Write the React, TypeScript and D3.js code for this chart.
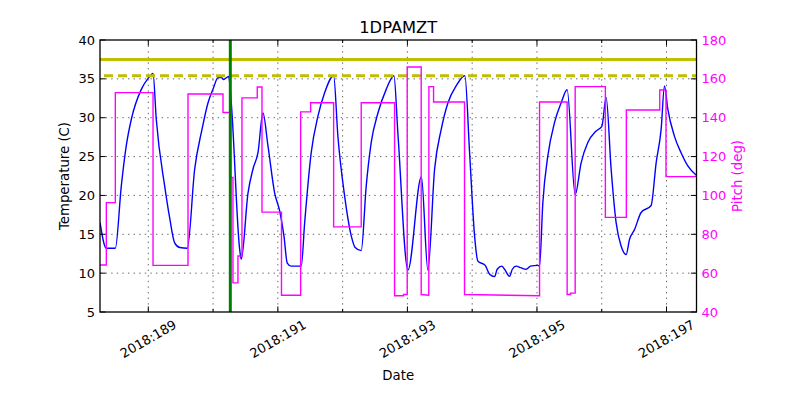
import React from "react";
import * as d3 from "d3";

const title = "1DPAMZT";
const xLabel = "Date";
const yLabelLeft = "Temperature (C)";
const yLabelRight = "Pitch (deg)";

const tempDays = [
  188.255, 188.352, 188.491, 188.583, 188.66, 188.738, 188.892, 189.0, 189.073,
  189.123, 189.253, 189.33, 189.407, 189.485, 189.602, 189.716, 189.829, 189.921,
  190.0, 190.076, 190.127, 190.16, 190.241, 190.281, 190.41, 190.435, 190.539,
  190.616, 190.693, 190.77, 190.847, 190.951, 191.028, 191.094, 191.145, 191.207,
  191.336, 191.361, 191.414, 191.515, 191.619, 191.722, 191.861, 191.927, 192.031,
  192.133, 192.194, 192.287, 192.364, 192.441, 192.545, 192.673, 192.792, 192.853,
  193.008, 193.216, 193.316, 193.42, 193.522, 193.625, 193.753, 193.887, 193.96,
  194.037, 194.088, 194.201, 194.269, 194.346, 194.386, 194.458, 194.5, 194.577,
  194.62, 194.679, 194.75, 194.833, 194.9, 195.014, 195.04, 195.091, 195.168,
  195.272, 195.373, 195.466, 195.59, 195.682, 195.785, 195.914, 196.002, 196.068,
  196.145, 196.222, 196.299, 196.377, 196.429, 196.506, 196.608, 196.762, 196.84,
  196.917, 196.969, 197.02, 197.123, 197.225, 197.329, 197.46,
];
const tempValues = [
  16.5, 13.2, 13.2, 21.2, 26.4, 29.8, 33.65, 35.1, 35.7,
  29.8, 21.2, 17.1, 13.9, 13.3, 13.2, 23.4, 28.5, 31.9,
  33.7, 35.15, 35.2, 34.9, 35.3, 31.9, 13.1, 11.8, 20.3,
  23.4, 25.5, 30.6, 26.4, 20.3, 18.0, 14.8, 11.3, 10.9,
  10.9, 10.9, 16.5, 25.5, 30.2, 33.2, 35.4, 27.6, 19.9,
  14.8, 13.3, 12.9, 21.2, 26.8, 30.6, 33.65, 35.4, 28.0,
  10.4, 22.4, 10.4, 23.4, 28.5, 31.9, 34.1, 35.4, 25.5,
  14.8, 11.55, 11.0, 9.85, 9.55, 10.5, 10.9, 10.5, 9.6,
  10.5, 10.9, 10.7, 10.5, 10.9, 11.0, 10.9, 19.1, 25.1,
  29.4, 31.9, 33.6, 20.1, 24.2, 26.8, 28.3, 28.9, 32.6,
  23.4, 16.5, 13.5, 12.4, 14.35, 15.6, 17.8, 18.7, 24.2,
  28.5, 34.1, 31.1, 27.6, 25.5, 23.8, 22.6,
];

const pitchDays = [
  188.255, 188.352, 188.352, 188.491, 188.491, 189.073, 189.073, 189.613, 189.613,
  190.153, 190.153, 190.256, 190.256, 190.307, 190.307, 190.384, 190.384, 190.446,
  190.446, 190.682, 190.682, 190.755, 190.755, 191.056, 191.056, 191.352, 191.352,
  191.506, 191.506, 191.861, 191.861, 192.287, 192.287, 192.802, 192.802, 192.94,
  192.94, 192.997, 192.997, 193.213, 193.213, 193.33, 193.332, 193.404, 193.404,
  193.882, 193.882, 195.04, 195.04, 195.466, 195.466, 195.518, 195.518, 195.59,
  195.59, 196.056, 196.056, 196.38, 196.38, 196.896, 196.896, 196.992, 196.992,
  197.46,
];
const pitchValues = [
  64.2, 64.2, 96.3, 96.3, 152.9, 152.9, 64.0, 64.0, 152.2,
  152.2, 142.7, 142.7, 109.3, 109.3, 55.0, 55.0, 68.8, 68.8,
  150.2, 150.2, 155.8, 155.8, 91.4, 91.4, 48.6, 48.6, 143.0,
  143.0, 147.7, 147.7, 83.8, 83.8, 147.7, 147.7, 48.4, 48.4,
  49.0, 49.0, 166.1, 166.1, 49.0, 48.6, 156.0, 156.0, 148.1,
  148.1, 49.0, 48.4, 148.1, 148.1, 49.0, 49.0, 49.7, 49.7,
  156.0, 156.0, 88.7, 88.7, 144.0, 144.0, 154.3, 154.3, 109.7,
  109.7,
];

const dayTicks = [189, 190, 191, 192, 193, 194, 195, 196, 197];
const labelledDays = [189, 191, 193, 195, 197];
const tempTicks = [5, 10, 15, 20, 25, 30, 35, 40];
const pitchTicks = [40, 60, 80, 100, 120, 140, 160, 180];
const tempDomain = [5, 40];
const pitchDomain = [40, 180];
const dayDomain = [188.2543, 197.463];
const limitHigh = [37.5];
const limitPlanning = [35.4];
const markerDays = [190.266];

const L = 100, R = 696.5, T = 40, B = 312;
const FONT = "DejaVu Sans, sans-serif";

export default function App() {
  const x = d3.scaleLinear().domain(dayDomain).range([L, R]);
  const yT = d3.scaleLinear().domain(tempDomain).range([B, T]);
  const yP = d3.scaleLinear().domain(pitchDomain).range([B, T]);

  const tempLine = d3
    .line<number>()
    .x((_, i) => x(tempDays[i]))
    .y((v) => yT(v))
    .curve(d3.curveMonotoneX);
  const pitchLine = d3
    .line<number>()
    .x((_, i) => x(pitchDays[i]))
    .y((v) => yP(v));

  return (
    <svg
      width={800}
      height={400}
      style={{ position: "absolute", left: 0, top: 0, background: "#fff" }}
      fontFamily={FONT}
    >
      <defs>
        <clipPath id="plot">
          <rect x={L} y={T} width={R - L} height={B - T} />
        </clipPath>
      </defs>
      <rect x={0} y={0} width={800} height={400} fill="#fff" />
      {/* grid */}
      <g stroke="#000" strokeWidth={0.6} strokeDasharray="1.4,4.2">
        {dayTicks.map((d) => (
          <line key={"gx" + d} x1={x(d)} x2={x(d)} y1={T} y2={B} />
        ))}
        {tempTicks
          .filter((t) => t > tempDomain[0] && t < tempDomain[1])
          .map((t) => (
            <line key={"gy" + t} x1={L} x2={R} y1={yT(t)} y2={yT(t)} />
          ))}
      </g>
      <g clipPath="url(#plot)">
        <path d={tempLine(tempValues) || ""} fill="none" stroke="#0000ff" strokeWidth={1.4} />
        {limitHigh.map((v) => (
          <line key={"lh" + v} x1={L} x2={R} y1={yT(v)} y2={yT(v)} stroke="#bfbf00" strokeWidth={3} />
        ))}
        {limitPlanning.map((v) => (
          <line
            key={"lp" + v}
            x1={L}
            x2={R}
            y1={yT(v)}
            y2={yT(v)}
            stroke="#bfbf00"
            strokeWidth={3}
            strokeDasharray="9,5"
            strokeDashoffset={-4}
          />
        ))}
        <path d={pitchLine(pitchValues) || ""} fill="none" stroke="#ff00ff" strokeWidth={1.4} />
        {markerDays.map((d) => (
          <line key={"m" + d} x1={x(d)} x2={x(d)} y1={T} y2={B} stroke="#008000" strokeWidth={3} />
        ))}
      </g>
      {/* ticks */}
      <g stroke="#000" strokeWidth={1}>
        {dayTicks.map((d) => {
          const len = labelledDays.includes(d) ? 5.6 : 3;
          return (
            <g key={"tx" + d}>
              <line x1={x(d)} x2={x(d)} y1={B} y2={B - len} />
              <line x1={x(d)} x2={x(d)} y1={T} y2={T + len} />
            </g>
          );
        })}
        {tempTicks.map((t) => (
          <line key={"tl" + t} x1={L} x2={L + 5.6} y1={yT(t)} y2={yT(t)} />
        ))}
        {pitchTicks.map((p) => (
          <line key={"tr" + p} x1={R} x2={R - 5.6} y1={yP(p)} y2={yP(p)} />
        ))}
      </g>
      {/* spines */}
      <rect x={L} y={T} width={R - L} height={B - T} fill="none" stroke="#000" strokeWidth={1.3} />
      {/* tick labels */}
      <g fontSize={13} fill="#000">
        {tempTicks.map((t) => (
          <text key={"ll" + t} x={L - 5} y={yT(t)} textAnchor="end" dominantBaseline="central">
            {t}
          </text>
        ))}
        {labelledDays.map((d) => (
          <text
            key={"xl" + d}
            x={x(d)}
            y={339}
            textAnchor="middle"
            dominantBaseline="central"
            transform={`rotate(-30, ${x(d)}, 339)`}
          >
            {`2018:${d}`}
          </text>
        ))}
      </g>
      <g fontSize={13} fill="#ff00ff">
        {pitchTicks.map((p) => (
          <text key={"rl" + p} x={R + 5} y={yP(p)} textAnchor="start" dominantBaseline="central">
            {p}
          </text>
        ))}
      </g>
      <text x={(L + R) / 2} y={27} fontSize={16.3} textAnchor="middle" dominantBaseline="central">
        {title}
      </text>
      <text x={(L + R) / 2} y={375} fontSize={13.3} textAnchor="middle" dominantBaseline="central">
        {xLabel}
      </text>
      <text
        x={64}
        y={(T + B) / 2}
        fontSize={13.3}
        textAnchor="middle"
        dominantBaseline="central"
        transform={`rotate(-90, 64, ${(T + B) / 2})`}
      >
        {yLabelLeft}
      </text>
      <text
        x={737}
        y={(T + B) / 2}
        fontSize={13.3}
        fill="#ff00ff"
        textAnchor="middle"
        dominantBaseline="central"
        transform={`rotate(-90, 737, ${(T + B) / 2})`}
      >
        {yLabelRight}
      </text>
    </svg>
  );
}
